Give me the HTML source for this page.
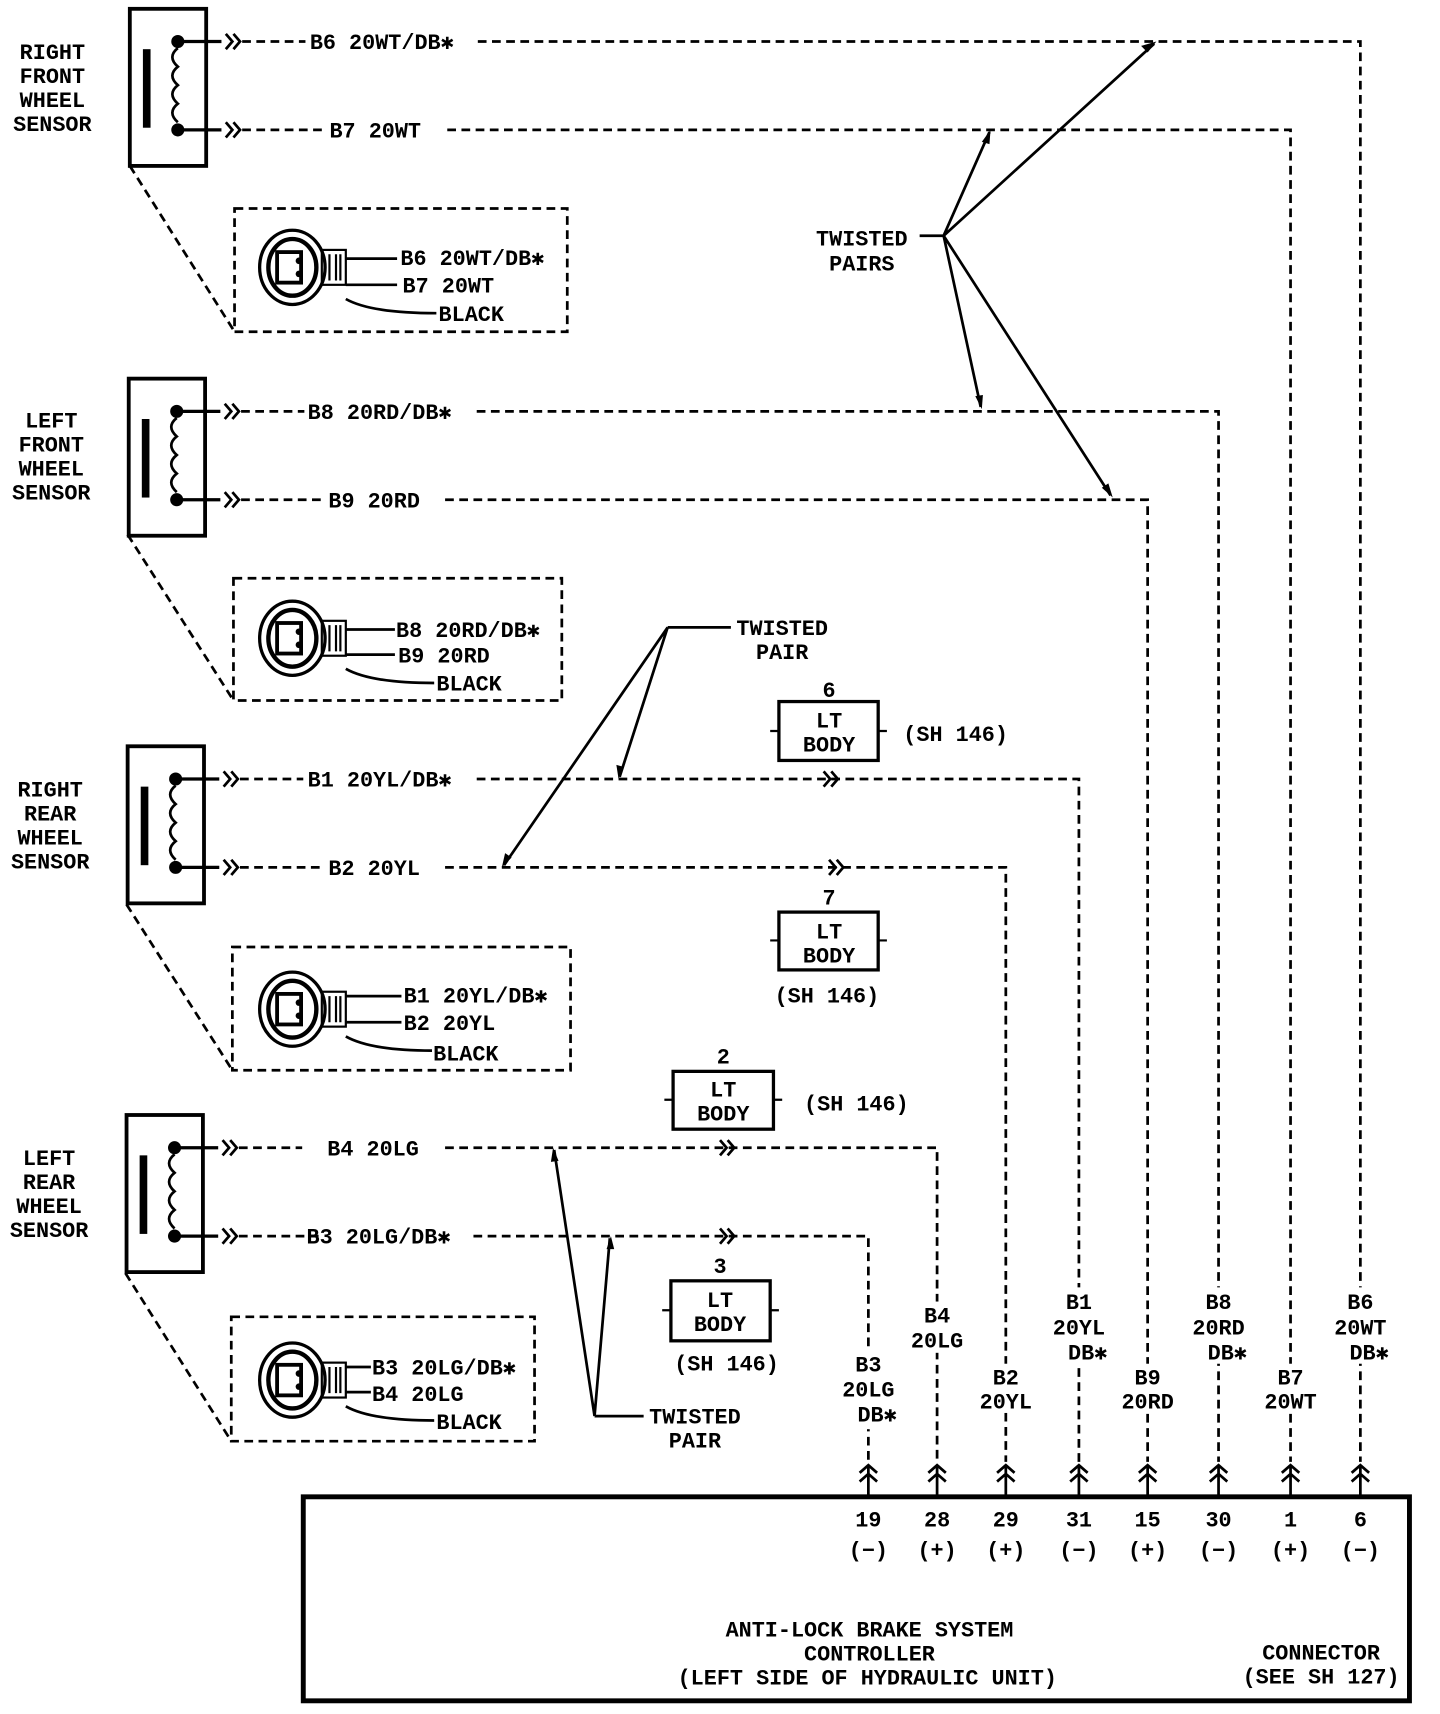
<!DOCTYPE html>
<html><head><meta charset="utf-8"><style>
html,body{margin:0;padding:0;background:#fff;}
svg{display:block;}
text{font-family:"Liberation Mono",monospace;font-weight:bold;font-size:20px;fill:#000;}
</style></head><body>
<svg width="1440" height="1714" viewBox="0 0 1320 1571" xmlns="http://www.w3.org/2000/svg">
<defs>
<g id="sensor">
<rect x="119" y="8" width="70" height="144" fill="none" stroke="#000" stroke-width="3.5"/>
<rect x="131" y="45" width="7" height="72" fill="#000" stroke="none"/>
<circle cx="163" cy="38" r="6" fill="#000" stroke="none"/><circle cx="163" cy="119" r="6" fill="#000" stroke="none"/>
<path d="M163,44 q-10,8 0,17 q-10,8 0,17 q-10,8 0,17 q-10,8 0,17" fill="none" stroke="#000" stroke-width="2.5"/>
<path d="M163,38 H203 M163,119 H203" stroke="#000" stroke-width="3"/>
<path d="M207,31 l6,7 l-6,7 M214,31 l6,7 l-6,7 M207,112 l6,7 l-6,7 M214,112 l6,7 l-6,7" fill="none" stroke="#000" stroke-width="2.5"/>
<path d="M222,38 H280 M222,119 H298" stroke="#000" stroke-width="2.5" stroke-dasharray="8 5"/>
</g>
<g id="conn">
<ellipse cx="268" cy="0" rx="30" ry="34" fill="none" stroke="#000" stroke-width="3"/>
<ellipse cx="268" cy="0" rx="22" ry="26" fill="none" stroke="#000" stroke-width="4"/>
<rect x="254" y="-14" width="22" height="28" fill="none" stroke="#000" stroke-width="3.5"/>
<circle cx="274" cy="-6" r="3" fill="#000" stroke="none"/><circle cx="274" cy="6" r="3" fill="#000" stroke="none"/>
<rect x="295" y="-16" width="22" height="32" fill="none" stroke="#000" stroke-width="2"/>
<path d="M302,-12 V12 M308,-12 V12 M312,-12 V12" stroke="#000" stroke-width="2"/>
</g>
<g id="botarr">
<path d="M-8,-22 l8,-7 l8,7 M-8,-14 l8,-7 l8,7 M0,-28 V0" fill="none" stroke="#000" stroke-width="2.5"/>
</g>
</defs>
<rect width="1320" height="1571" fill="#fff"/>
<g stroke="#000" fill="none">
<use href="#sensor"/>
<use href="#sensor" transform="translate(-1,339)"/>
<use href="#sensor" transform="translate(-2,676)"/>
<use href="#sensor" transform="translate(-3,1014)"/>
<g stroke-width="2.5" stroke-dasharray="8 5">
<rect x="215" y="191" width="305" height="113"/>
<rect x="214" y="530" width="301" height="112"/>
<rect x="213" y="868" width="310" height="113"/>
<rect x="212" y="1207" width="278" height="114"/>
<path d="M119,152 L215,304 M117,490 L214,642 M116,829 L213,981 M115,1167 L212,1321"/>
<path d="M438,38 H1247 V1340 M410,119 H1183 V1340 M437,377 H1117 V1340 M408,458 H1052 V1340 M437,714 H989 V1340 M408,795 H922 V1340 M408,1052 H859 V1340 M434,1133 H796 V1340"/>
</g>
<path d="M755,707 l6,7 l-6,7 M762,707 l6,7 l-6,7 M760,788 l6,7 l-6,7 M767,788 l6,7 l-6,7 M660,1045 l6,7 l-6,7 M667,1045 l6,7 l-6,7 M660,1126 l6,7 l-6,7 M667,1126 l6,7 l-6,7" stroke-width="2.5"/>
<g stroke-width="2.5">
<path d="M843,216 H865 M865,216 L1058,40 M865,216 L907,121 M865,216 L899,373 M865,216 L1018,454"/>
<path d="M670,575 H612 M612,575 L568,712 M612,575 L462,793"/>
<path d="M590,1298 H545 M545,1298 L508,1054 M545,1298 L559,1135"/>
</g>
<g fill="#000" stroke="none">
<path d="M1060,38 l-14,4 l6,6z"/>
<path d="M908,119 l-8,11 l7,2z"/>
<path d="M900,375 l-6,-12 l7,-1z"/>
<path d="M1020,456 l-10,-9 l6,-4z"/>
<path d="M567,714 l-2,-13 l7,2z"/>
<path d="M460,795 l3,-13 l6,4z"/>
<path d="M507,1052 l-2,13 l7,-1z"/>
<path d="M560,1133 l-4,12 l7,0z"/>
</g>
<use href="#conn" transform="translate(0,245)"/>
<use href="#conn" transform="translate(0,585)"/>
<use href="#conn" transform="translate(0,925)"/>
<use href="#conn" transform="translate(0,1265)"/>
<g stroke-width="2.5">
<path d="M317,237 H364 M317,261 H364 M317,274 Q340,287 400,287"/>
<path d="M317,577 H362 M317,600 H362 M317,613 Q340,626 398,626"/>
<path d="M317,913 H368 M317,937 H368 M317,950 Q340,963 396,963"/>
<path d="M317,1253 H340 M317,1276 H340 M317,1289 Q340,1302 398,1302"/>
</g>
<g stroke-width="3">
<rect x="714" y="643" width="91" height="54"/>
<rect x="714" y="836" width="91" height="53"/>
<rect x="617" y="982" width="92" height="53"/>
<rect x="615" y="1174" width="91" height="55"/>
</g>
<path d="M706,670 H714 M805,670 H813 M706,862 H714 M805,862 H813 M609,1008 H617 M709,1008 H717 M607,1201 H615 M706,1201 H714" stroke-width="2"/>
<rect x="278" y="1372" width="1014" height="187" stroke-width="4.5"/>
<use href="#botarr" x="796" y="1372"/>
<use href="#botarr" x="859" y="1372"/>
<use href="#botarr" x="922" y="1372"/>
<use href="#botarr" x="989" y="1372"/>
<use href="#botarr" x="1052" y="1372"/>
<use href="#botarr" x="1117" y="1372"/>
<use href="#botarr" x="1183" y="1372"/>
<use href="#botarr" x="1247" y="1372"/>
</g>
<!-- white gaps behind vertical labels -->
<g fill="#fff">
<rect x="770" y="1238" width="60" height="72"/>
<rect x="833" y="1193" width="54" height="47"/>
<rect x="896" y="1250" width="54" height="45"/>
<rect x="963" y="1180" width="60" height="70"/>
<rect x="1026" y="1250" width="54" height="45"/>
<rect x="1091" y="1180" width="60" height="70"/>
<rect x="1157" y="1250" width="54" height="45"/>
<rect x="1221" y="1180" width="60" height="70"/>
</g>
<g text-anchor="middle">
<text x="48" y="54">RIGHT</text><text x="48" y="76">FRONT</text><text x="48" y="98">WHEEL</text><text x="48" y="120">SENSOR</text>
<text x="47" y="392">LEFT</text><text x="47" y="414">FRONT</text><text x="47" y="436">WHEEL</text><text x="47" y="458">SENSOR</text>
<text x="46" y="730">RIGHT</text><text x="46" y="752">REAR</text><text x="46" y="774">WHEEL</text><text x="46" y="796">SENSOR</text>
<text x="45" y="1068">LEFT</text><text x="45" y="1090">REAR</text><text x="45" y="1112">WHEEL</text><text x="45" y="1134">SENSOR</text>
</g>
<text x="284" y="45">B6 20WT/DB✱</text>
<text x="302" y="126">B7 20WT</text>
<text x="282" y="384">B8 20RD/DB✱</text>
<text x="301" y="465">B9 20RD</text>
<text x="282" y="721">B1 20YL/DB✱</text>
<text x="301" y="802">B2 20YL</text>
<text x="300" y="1059">B4 20LG</text>
<text x="281" y="1140">B3 20LG/DB✱</text>
<text x="367" y="243">B6 20WT/DB✱</text>
<text x="369" y="268">B7 20WT</text>
<text x="402" y="294">BLACK</text>
<text x="363" y="584">B8 20RD/DB✱</text>
<text x="365" y="607">B9 20RD</text>
<text x="400" y="633">BLACK</text>
<text x="370" y="919">B1 20YL/DB✱</text>
<text x="370" y="944">B2 20YL</text>
<text x="397" y="972">BLACK</text>
<text x="341" y="1260">B3 20LG/DB✱</text>
<text x="341" y="1284">B4 20LG</text>
<text x="400" y="1310">BLACK</text>
<g text-anchor="middle">
<text x="790" y="225">TWISTED</text><text x="790" y="248">PAIRS</text>
<text x="717" y="582">TWISTED</text><text x="717" y="604">PAIR</text>
<text x="637" y="1305">TWISTED</text><text x="637" y="1327">PAIR</text>
<text x="760" y="639">6</text><text x="760" y="667">LT</text><text x="760" y="689">BODY</text>
<text x="760" y="829">7</text><text x="760" y="860">LT</text><text x="760" y="882">BODY</text>
<text x="663" y="975">2</text><text x="663" y="1005">LT</text><text x="663" y="1027">BODY</text>
<text x="660" y="1167">3</text><text x="660" y="1198">LT</text><text x="660" y="1220">BODY</text>
<text x="876" y="679">(SH 146)</text>
<text x="758" y="919">(SH 146)</text>
<text x="785" y="1018">(SH 146)</text>
<text x="666" y="1256">(SH 146)</text>
<text x="796" y="1257">B3</text><text x="796" y="1280">20LG</text><text x="804" y="1303">DB✱</text>
<text x="859" y="1212">B4</text><text x="859" y="1235">20LG</text>
<text x="922" y="1269">B2</text><text x="922" y="1291">20YL</text>
<text x="989" y="1200">B1</text><text x="989" y="1223">20YL</text><text x="997" y="1246">DB✱</text>
<text x="1052" y="1269">B9</text><text x="1052" y="1291">20RD</text>
<text x="1117" y="1200">B8</text><text x="1117" y="1223">20RD</text><text x="1125" y="1246">DB✱</text>
<text x="1183" y="1269">B7</text><text x="1183" y="1291">20WT</text>
<text x="1247" y="1200">B6</text><text x="1247" y="1223">20WT</text><text x="1255" y="1246">DB✱</text>
<text x="796" y="1399">19</text><text x="796" y="1427">(−)</text>
<text x="859" y="1399">28</text><text x="859" y="1427">(+)</text>
<text x="922" y="1399">29</text><text x="922" y="1427">(+)</text>
<text x="989" y="1399">31</text><text x="989" y="1427">(−)</text>
<text x="1052" y="1399">15</text><text x="1052" y="1427">(+)</text>
<text x="1117" y="1399">30</text><text x="1117" y="1427">(−)</text>
<text x="1183" y="1399">1</text><text x="1183" y="1427">(+)</text>
<text x="1247" y="1399">6</text><text x="1247" y="1427">(−)</text>
<text x="797" y="1500">ANTI-LOCK BRAKE SYSTEM</text>
<text x="797" y="1522">CONTROLLER</text>
<text x="795" y="1544">(LEFT SIDE OF HYDRAULIC UNIT)</text>
<text x="1211" y="1521">CONNECTOR</text>
<text x="1211" y="1543">(SEE SH 127)</text>
</g>
</svg>
</body></html>
